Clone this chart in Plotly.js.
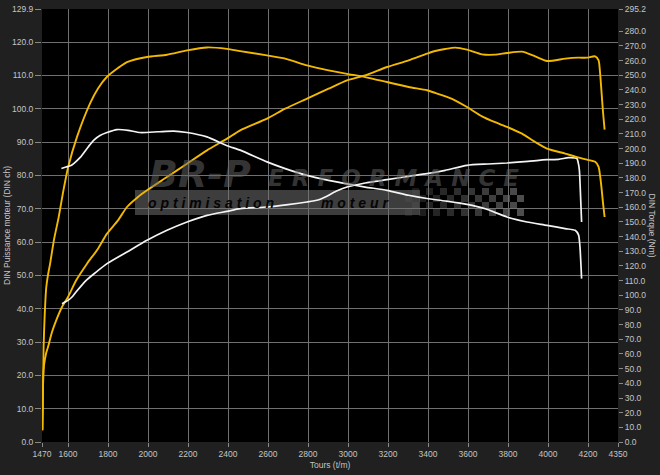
<!DOCTYPE html>
<html>
<head>
<meta charset="utf-8">
<script src="https://cdn.plot.ly/plotly-3.0.1.min.js"></script>
<style>
  html, body { margin: 0; padding: 0; background: #202020; }
  #chart { width: 660px; height: 475px; }
</style>
</head>
<body>
<div id="chart"></div>
<script>
// ---------- data ----------
// Tuned power (DIN ch, left axis)
const tunedPowerRpm = [1472, 1474, 1476, 1480, 1490, 1500, 1520, 1541, 1570, 1600, 1641, 1695, 1750, 1795, 1850, 1895, 1950, 1995, 2095, 2195, 2295, 2395, 2461, 2595, 2686, 2795, 2903, 2995, 3086, 3195, 3303, 3395, 3436, 3486, 3536, 3595, 3670, 3735, 3795, 3870, 3936, 3995, 4086, 4150, 4195, 4236, 4253, 4260, 4267, 4275, 4283];
const tunedPower = [3.5, 10, 19.5, 23, 26.5, 28.5, 33, 36.5, 40.5, 43.5, 48.5, 53.5, 58, 62.5, 66.5, 70.5, 73.5, 75.5, 79.5, 83.5, 87.5, 91, 93.5, 97, 100, 103, 106, 108.5, 110, 112.5, 114.5, 116.5, 117.3, 117.9, 118.3, 117.7, 116.3, 116.2, 116.7, 117.1, 115.7, 114.3, 115, 115.3, 115.3, 115.7, 114.5, 111, 105.5, 99, 93.7];

// Tuned torque (Nm, right axis)
const tunedTorqueRpm = [1472, 1474, 1476, 1478, 1483, 1491, 1500, 1511, 1530, 1553, 1575, 1600, 1645, 1711, 1750, 1795, 1850, 1895, 1995, 2095, 2195, 2295, 2395, 2461, 2595, 2686, 2795, 2903, 2995, 3086, 3195, 3303, 3395, 3436, 3520, 3595, 3670, 3735, 3795, 3870, 3936, 3995, 4086, 4150, 4195, 4236, 4253, 4260, 4267, 4275, 4283];
const tunedTorque = [8, 30, 44, 65, 85, 105, 114, 122, 138, 153, 170, 187, 208, 231, 241, 249, 255, 259, 262.5, 264, 267, 269, 268, 266.5, 263.6, 261.4, 256.8, 253.4, 251, 248.8, 245.4, 242, 239.8, 238, 234, 228.4, 222, 218, 214.8, 210.2, 204.5, 200, 196.6, 194, 192.5, 191, 187.5, 182, 174, 163, 153.4];

// Original power (DIN ch, left axis)
const stockPowerRpm = [1570, 1585, 1600, 1620, 1640, 1691, 1735, 1795, 1895, 1995, 2095, 2195, 2295, 2395, 2461, 2595, 2700, 2795, 2850, 2886, 2940, 2995, 3086, 3195, 3303, 3395, 3486, 3595, 3700, 3795, 3900, 3995, 4053, 4103, 4135, 4145, 4152, 4157, 4162, 4168];
const stockPower = [41.5, 42, 42.5, 43.5, 45, 48.5, 50.7, 53.5, 57, 60.5, 63.5, 66, 68, 69.2, 70, 70.5, 71.2, 72, 72.6, 73.5, 75.2, 76.5, 77.7, 78.7, 79.7, 80.5, 81.5, 83, 83.4, 83.7, 84.2, 84.7, 84.8, 85.3, 85.2, 85, 83.5, 81.5, 75, 66];

// Original torque (Nm, right axis)
const stockTorqueRpm = [1567, 1590, 1612, 1630, 1661, 1700, 1728, 1760, 1795, 1845, 1900, 1961, 2050, 2128, 2195, 2295, 2395, 2461, 2595, 2686, 2795, 2903, 2995, 3086, 3195, 3303, 3395, 3486, 3595, 3686, 3795, 3895, 3995, 4086, 4136, 4153, 4158, 4161, 4165, 4168];
const stockTorque = [186.5, 187.5, 188.3, 190, 194, 201, 205.7, 209, 211, 213, 212.5, 211, 211.5, 212, 211, 208, 202, 199, 191, 186.4, 181.8, 178.4, 176, 173.8, 171.6, 168.2, 166, 164.3, 162, 159, 153.4, 150, 147.7, 145.5, 144.3, 141, 136, 130.7, 120, 111.4];

// Tick values
const rpmTicks = [1470, 1600, 1800, 2000, 2200, 2400, 2600, 2800, 3000, 3200, 3400, 3600, 3800, 4000, 4200, 4350];
const powerTicks = [0, 10, 20, 30, 40, 50, 60, 70, 80, 90, 100, 110, 120, 129.9];
const torqueTicks = [0, 10, 20, 30, 40, 50, 60, 70, 80, 90, 100, 110, 120, 130, 140, 150, 160, 170, 180, 190, 200, 210, 220, 230, 240, 250, 260, 270, 280, 295.2];

// Texts
const xTitle = 'Tours (t/m)';
const yLeftTitle = 'DIN Puissance moteur (DIN ch)';
const yRightTitle = 'DIN Torque (Nm)';

// ---------- styling ----------
const YELLOW = '#f3b900';
const WHITE = '#f4f4f4';
const FONT = 'Liberation Sans, Arial, sans-serif';
const TICKCOL = '#c4c4c4';
const LINE = { shape: 'spline', smoothing: 0.6 };

const traces = [
  { x: tunedTorqueRpm, y: tunedTorque, yaxis: 'y2', mode: 'lines', line: Object.assign({ color: YELLOW, width: 1.9 }, LINE), name: 'Torque tuned' },
  { x: tunedPowerRpm, y: tunedPower, yaxis: 'y', mode: 'lines', line: Object.assign({ color: YELLOW, width: 1.9 }, LINE), name: 'Power tuned' },
  { x: stockTorqueRpm, y: stockTorque, yaxis: 'y2', mode: 'lines', line: Object.assign({ color: WHITE, width: 1.7 }, LINE), name: 'Torque stock' },
  { x: stockPowerRpm, y: stockPower, yaxis: 'y', mode: 'lines', line: Object.assign({ color: WHITE, width: 1.7 }, LINE), name: 'Power stock' }
];

// plot geometry helpers (pixel -> paper) for the decorative watermark
const L = 42, R = 42, T = 9, B = 33, W = 660, H = 475;
const pw = W - L - R, ph = H - T - B;
const px = v => (v - L) / pw;
const py = v => (H - B - v) / ph;

const shapes = [
  { type: 'rect', xref: 'paper', yref: 'paper', layer: 'below',
    x0: px(135), x1: px(420), y0: py(215), y1: py(190),
    fillcolor: '#3d3d3d', line: { width: 0 } }
];
// checkered flag
for (let c = 0; c < 17; c++) {
  for (let r = 0; r < 4; r++) {
    if ((c + r) % 2 === 0) continue;
    const x0 = 405 + c * 7, y0 = 188 + r * 7;
    shapes.push({ type: 'rect', xref: 'paper', yref: 'paper', layer: 'below',
      x0: px(x0), x1: px(x0 + 7), y0: py(y0 + 7), y1: py(y0),
      fillcolor: '#5a5a5a', opacity: 0.25 + 0.6 * (c / 16), line: { width: 0 } });
  }
}

const annotations = [
  { xref: 'paper', yref: 'paper', x: px(200), y: py(174), xanchor: 'center', yanchor: 'middle',
    text: '<b><i>BR-P</i></b>', showarrow: false,
    font: { family: 'DejaVu Sans, sans-serif', size: 38, color: 'rgba(105,105,105,0.5)' } },
  { xref: 'paper', yref: 'paper', x: px(393), y: py(178), xanchor: 'center', yanchor: 'middle',
    text: '<b><i>E R F O R M A N C E</i></b>', showarrow: false,
    font: { family: 'DejaVu Sans, sans-serif', size: 23, color: 'rgba(105,105,105,0.5)' } },
  { xref: 'paper', yref: 'paper', x: px(211), y: py(203), xanchor: 'center', yanchor: 'middle',
    text: '<b><i>o p t i m i s a t i o n</i></b>', showarrow: false,
    font: { family: FONT, size: 14, color: '#050505' } },
  { xref: 'paper', yref: 'paper', x: px(355), y: py(203), xanchor: 'center', yanchor: 'middle',
    text: '<b><i>m o t e u r</i></b>', showarrow: false,
    font: { family: FONT, size: 14, color: '#050505' } },
  { xref: 'paper', yref: 'paper', x: px(652), y: 0.5, xanchor: 'center', yanchor: 'middle',
    text: yRightTitle, textangle: 90, showarrow: false,
    font: { family: FONT, size: 8.5, color: TICKCOL } }
];

const layout = {
  width: W, height: H,
  margin: { l: L, r: R, t: T, b: B, pad: 0 },
  paper_bgcolor: '#202020',
  plot_bgcolor: '#000000',
  showlegend: false,
  font: { family: FONT, size: 8.5, color: TICKCOL },
  xaxis: {
    range: [1470, 4350], tickmode: 'array', tickvals: rpmTicks, ticktext: rpmTicks.map(String),
    showgrid: true, gridcolor: '#707070', gridwidth: 1, zeroline: false, showline: false,
    ticks: 'outside', ticklen: 4, tickcolor: '#8a8a8a',
    tickfont: { family: FONT, size: 8.5, color: TICKCOL },
    title: { text: xTitle, standoff: 3, font: { family: FONT, size: 8.5, color: TICKCOL } },
    automargin: false
  },
  yaxis: {
    range: [0, 129.9], tickmode: 'array', tickvals: powerTicks, ticktext: powerTicks.map(v => v.toFixed(1)),
    showgrid: true, gridcolor: '#707070', gridwidth: 1, zeroline: false, showline: false,
    ticks: 'outside', ticklen: 6, tickcolor: '#8a8a8a',
    tickfont: { family: FONT, size: 8.5, color: TICKCOL },
    title: { text: yLeftTitle, standoff: 0, font: { family: FONT, size: 8.5, color: TICKCOL } },
    automargin: false
  },
  yaxis2: {
    range: [0, 295.2], overlaying: 'y', side: 'right', tickmode: 'array', tickvals: torqueTicks,
    ticktext: torqueTicks.map(v => v.toFixed(1)),
    showgrid: false, zeroline: false, showline: false,
    ticks: 'outside', ticklen: 4, tickcolor: '#8a8a8a',
    tickfont: { family: FONT, size: 8.5, color: TICKCOL },
    automargin: false
  },
  shapes: shapes,
  annotations: annotations
};

Plotly.newPlot('chart', traces, layout, { displayModeBar: false, staticPlot: true });
</script>
</body>
</html>
